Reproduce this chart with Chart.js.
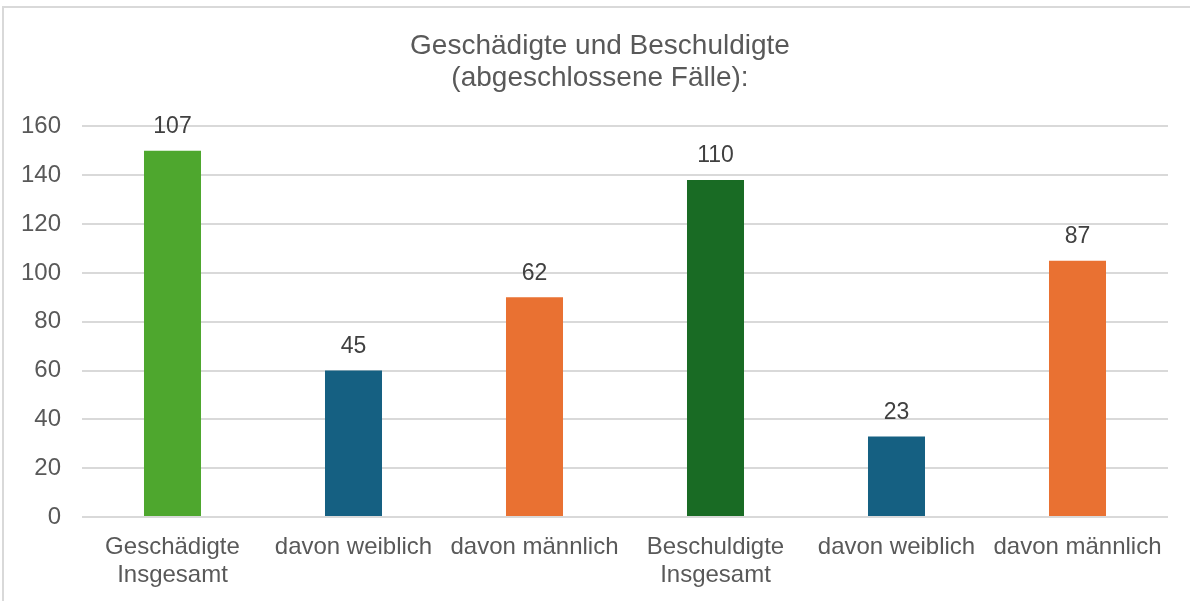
<!DOCTYPE html>
<html>
<head>
<meta charset="utf-8">
<script src="https://cdn.jsdelivr.net/npm/chart.js@4"></script>
<style>
html,body{margin:0;padding:0;background:#fff;}
#wrap{position:relative;width:1190px;height:601px;}
</style>
</head>
<body>
<div id="wrap"><canvas id="c" width="1190" height="601"></canvas></div>
<script>
const categories = [["Geschädigte","Insgesamt"],"davon weiblich","davon männlich",["Beschuldigte","Insgesamt"],"davon weiblich","davon männlich"];
const barValues = [150, 60, 90, 138, 33, 105];
const labelValues = [107, 45, 62, 110, 23, 87];
const barColors = ["#4ea72e","#156082","#e97132","#196b24","#156082","#e97132"];
const titleLines = ["Geschädigte und Beschuldigte","(abgeschlossene Fälle):"];

const frame = {
  id:'frame',
  beforeDraw(chart){
    const ctx = chart.ctx;
    ctx.save();
    ctx.fillStyle='#fff';
    ctx.fillRect(0,0,chart.width,chart.height);
    ctx.strokeStyle='#d9d9d9';
    ctx.lineWidth=2;
    ctx.beginPath();
    ctx.moveTo(3,chart.height);
    ctx.lineTo(3,7);
    ctx.lineTo(chart.width,7);
    ctx.stroke();
    ctx.restore();
  }
};
const valueLabels = {
  id:'valueLabels',
  afterDatasetsDraw(chart){
    const ctx = chart.ctx;
    const meta = chart.getDatasetMeta(0);
    ctx.save();
    ctx.font = '23px "Liberation Sans", Arial, sans-serif';
    ctx.fillStyle = '#404040';
    ctx.textAlign = 'center';
    ctx.textBaseline = 'middle';
    meta.data.forEach((bar,i)=>{
      ctx.fillText(String(labelValues[i]), bar.x, bar.y - 24);
    });
    ctx.restore();
  }
};

Chart.defaults.font.family = '"Liberation Sans", Arial, sans-serif';
Chart.defaults.color = '#595959';

new Chart(document.getElementById('c'), {
  type:'bar',
  data:{
    labels: categories,
    datasets:[{data: barValues, backgroundColor: barColors, barPercentage:0.63, categoryPercentage:0.5, yAxisID:'y'}]
  },
  options:{
    responsive:false,
    animation:false,
    layout:{padding:{left:10,right:0,top:0,bottom:0}},
    plugins:{
      legend:{display:false},
      tooltip:{enabled:false},
      title:{display:true,text:titleLines,font:{size:28,weight:'normal',lineHeight:1.15},color:'#595959',padding:{top:30,bottom:32}}
    },
    scales:{
      x:{
        grid:{display:false,drawTicks:false},
        border:{display:false},
        ticks:{font:{size:24,lineHeight:1.18},color:'#595959',padding:16,maxRotation:0,autoSkip:false},
        afterFit(s){s.height=84;}
      },
      y:{
        min:0,max:160,
        grid:{color:'#d9d9d9',lineWidth:2,drawTicks:false},
        border:{display:false},
        ticks:{stepSize:20,font:{size:24},color:'#595959',padding:21},
        afterFit(s){s.width=72;}
      },
      ySpacer:{
        position:'right',
        min:0,max:160,
        grid:{display:false,drawTicks:false},
        border:{display:false},
        ticks:{display:false},
        afterFit(s){s.width=22;}
      }
    }
  },
  plugins:[frame,valueLabels]
});
</script>
</body>
</html>
